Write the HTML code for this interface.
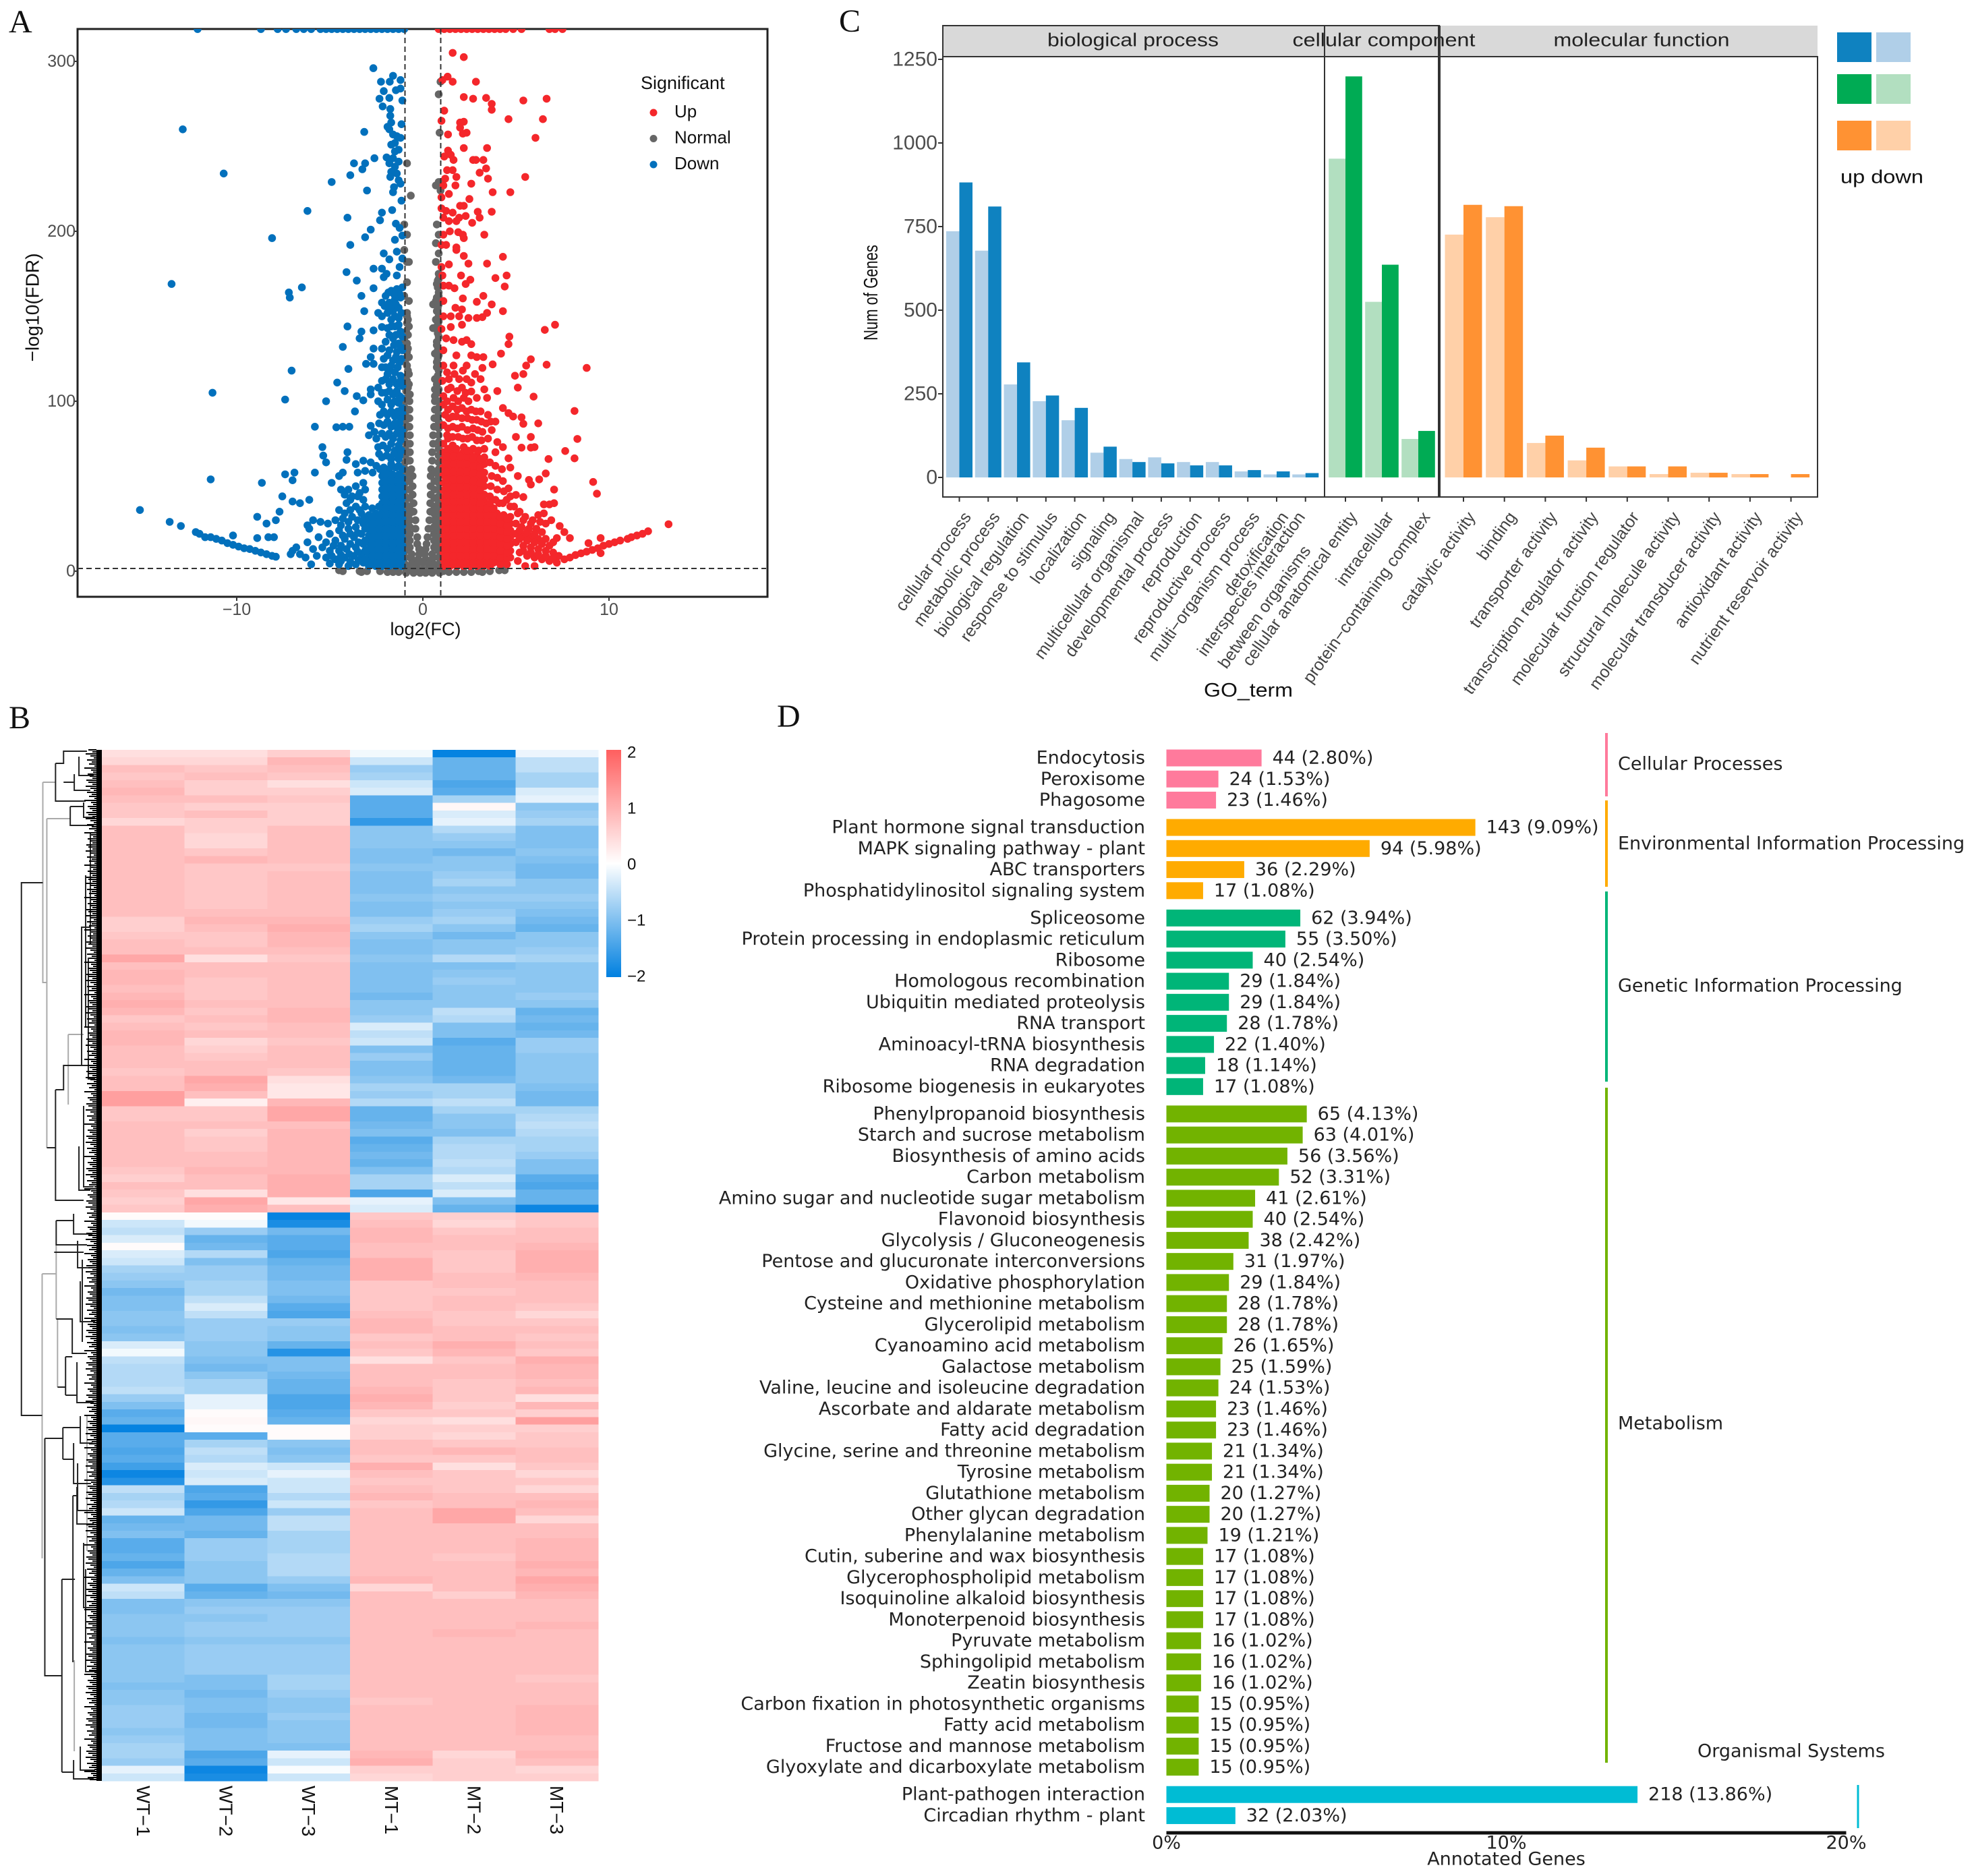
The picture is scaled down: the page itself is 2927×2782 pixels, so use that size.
<!DOCTYPE html>
<html lang="en">
<head>
<meta charset="utf-8">
<title>Transcriptome figure panels</title>
<style>
html,body{margin:0;padding:0;background:#fff}
svg{display:block}
text{font-family:"Liberation Sans",Arial,sans-serif}
.serif{font-family:"Liberation Serif",serif;font-size:48px;fill:#111}
.dj{font-family:"DejaVu Sans",sans-serif;font-size:27px;fill:#222}
</style>
</head>
<body>
<svg id="fig" xmlns="http://www.w3.org/2000/svg" width="2927" height="2782" viewBox="0 0 2927 2782">
  <defs>
    <clipPath id="volcanoClip"><rect x="115" y="43" width="1023" height="842"/></clipPath>
    <linearGradient id="heatGrad" x1="0" y1="0" x2="0" y2="1">
      <stop offset="0" stop-color="#ff5f5f"/><stop offset=".5" stop-color="#ffffff"/><stop offset="1" stop-color="#0080e0"/>
    </linearGradient>
  </defs>
  <rect x="0" y="0" width="2927" height="2782" fill="#fff"/>
  <text class="serif" x="13" y="48">A</text>
  <text class="serif" x="13" y="1080">B</text>
  <text class="serif" x="1244" y="47">C</text>
  <text class="serif" x="1152" y="1078">D</text>

  <g id="panelA"></g>
  <g id="panelB">
    <g transform="scale(.992 1)">
    <g fill="none" stroke="#aaa" stroke-width="2">
      <path d="M64 1160V1457H70M64 1160H83M70 1214V1702M70 1214H105M102 1534V1638M102 1534H125M63 1889V2311M63 1889H84M84 1846V1956M86 1956V2057M111 2462V2597M130 2100V2300M128 2330V2480"/>
    </g>
    <g fill="none" stroke="#222" stroke-width="2">
      <path d="M64 1309H32V2099H63"/>
      <path d="M83 1132V1188H128M83 1132H95V1114H130M95 1160H111M111 1148V1172H135M118 1122V1150H140M105 1196V1224H140M105 1196H125M125 1190V1212H142"/>
      <path d="M70 1702H83M83 1616V1780H125M83 1616H95V1580H122V1375H135M122 1580H132M128 1298V1523H140M135 1235V1400M132 1420V1600H142M125 1640V1760H140M118 1700V1765H135"/>
      <path d="M84 1810V1846H130M84 1810H110M81 1857H125M123 1868V1990M110 1800V1830H138M116 1840V1880H142M84 1956H108V2007H130M86 2057H98M98 2012V2069M98 2012H108M98 2069H115M115 2020V2080H140M120 1900V1960H142"/>
      <path d="M67 2133H94M67 2133V2485H92.5M94 2117V2164M94 2117H120M94 2164H110M120 2100V2140H138M110 2140V2200H136M116 2170V2240H140M92.5 2342V2628M92.5 2342H112M109 2218V2465M109 2218H115M115 2205V2260H140M125 2288V2384H142M128 2327V2479H145M92.5 2628H110M110 2610V2638H140M120 2590V2625H142"/>
    </g>
    </g>
  </g>
  <g id="panelC"></g>
  <g id="panelD">
    <g stroke-width="4">
      <line x1="2382" y1="1087" x2="2382" y2="1181" stroke="#ff7a9c"/>
      <line x1="2382" y1="1187" x2="2382" y2="1315" stroke="#ffab00"/>
      <line x1="2382" y1="1322" x2="2382" y2="1604" stroke="#00b578"/>
      <line x1="2382" y1="1613" x2="2382" y2="2614" stroke="#72b300"/>
      <line x1="2755" y1="2647" x2="2755" y2="2711" stroke="#00bcd4" stroke-width="3"/>
    </g>
  </g>
</svg>
<script>
/* ---------- Panel A data: [log2FC, -log10FDR] ---------- */
const volcanoXTicks = [-10, 0, 10];
const volcanoYTicks = [0, 100, 200, 300];
const legendLabels = ["Up", "Normal", "Down"];
const downPoints = [[-12.9,260],[-10.7,234],[-8.1,196],[-6.2,212],[-13.5,169],[-7.2,164],[-7.15,161],[-6.5,167],[-7.05,118],[-11.3,105],[-7.4,101],[-11.4,54],[-8.65,52],[-7.4,57],[-6.9,58],[-7,53.5],[-5.8,58],[-7.55,44],[-7,41],[-6.6,40],[-6.1,42],[-15.2,36],[-13.6,29],[-13,26.6],[-12.2,23],[-10.2,21],[-8.9,32],[-8.4,28],[-7.9,30],[-7.7,35],[-8.9,19.5],[-8.3,20],[-8,20],
[-12,22],[-11.7,20],[-11.4,20],[-11.1,19],[-10.8,18],[-10.5,16.5],[-10.2,15.5],[-9.9,14.5],[-9.6,13.5],[-9.3,13],[-9,12],[-8.7,11],[-8.4,10],[-8.1,9],[-7.9,8.5],
[-2.66,296],[-2.25,288],[-1.78,288],[-1.6,291.5],[-1.2,289],[-1.2,284],[-2.1,282.5],[-1.45,283],[-2.33,278],[-1.8,278.5],[-1.1,277],[-2.16,273.5],[-1.75,272],[-1.75,268],[-1.7,264],[-1.8,260],[-1.9,261.5],[-1.15,263],[-3.15,258.5],[-1.6,257],[-1.4,256],[-1.2,255],[-1.5,252],[-1.7,251],[-1.3,248],[-1.5,247],[-1.6,243],[-1.3,241],[-1.5,238],[-1.95,243.5],[-2.6,243],[-3.7,240],[-3.1,240],[-3.25,236.5],[-3.9,233],[-4.9,229],[-3,224],[-1.8,240],[-1.7,235],[-1.75,232],[-1.4,234],[-1.3,230],[-1.55,226],[-1.6,223],[-1.2,228],[-1.15,218],[-1.65,212.5],[-2.2,211],[-2.3,206.5],[-4.05,208],[-1.45,204.5],[-2.8,201],[-3.1,196.5],[-3.9,192],[-1.25,202],[-1.5,195],[-1.1,197.5],[-1.4,188],[-2.1,187],[-1.8,183.5],[-2.65,178],[-2.2,178],[-1.95,175],[-1.25,179],[-1.1,184],[-4.1,176],[-3.55,171],[-2.1,173],[-1.4,174],[-2.65,166.5],[-3.3,162],[-2,162],[-1.7,165],[-1.4,166],[-1.1,167],[-2.2,158],[-1.8,158],[-1.5,160],[-1.2,161],[-1.9,152],[-1.6,153],[-1.3,155],[-2.4,152],[-3.15,153],[-2.2,150],[-1.7,148],[-1.3,149],[-1.9,143],[-1.5,144],[-1.2,141],[-2.2,143.7],[-4.05,144],[-2.65,141.7],[-3.3,141],[-3.4,137],[-4.3,132],[-2,135],[-1.6,137],[-1.3,134],[-1.8,130],[-1.4,129],[-1.1,130],[-2.1,125],[-1.6,124],[-1.25,123],[-2.2,120],[-1.8,119],[-2.65,131],[-2.8,126],[-3.05,122],[-2.65,122],[-4,119],[-1.9,116],[-1.5,117],[-1.2,115],[-2.2,112],[-1.8,110],[-1.4,110],[-1.1,109],[-2,105],[-1.6,104],[-1.25,103],[-2.4,108],[-4.6,111],[-4.2,106],[-3.55,103],[-2.8,107],[-2.8,104],[-3.2,100.5],[-5.2,100],[-3.65,94],[-5.8,85],[-4.65,84.7],[-4.3,85],[-3.95,85],[-2.8,85.5],[-2.9,80],[-2.2,98],[-1.7,98],[-1.3,99],[-1.1,96],[-2.3,92],[-1.9,92],[-1.5,91],[-1.2,90],[-2.1,86],[-1.7,85],[-1.35,84],[-1.1,83],[-2.5,78],[-2,79],[-1.6,78],[-1.2,77],[-2.4,73],[-1.9,72],[-1.5,71],[-1.15,71],[-2.2,67],[-1.7,66],[-1.3,66],[-5.4,73],[-5.35,68],[-5.2,64],[-4.05,70],[-4.1,65.5],[-3.6,63],[-3.2,65],[-2.8,64],[-2.5,62],[-3.5,58],[-3.1,59],[-2.7,58],[-2.3,60],
[-1.1,60],[-1.46,61],[-1.82,60],[-2.18,56],[-1.1,55],[-1.46,56],[-1.82,55],[-2.18,52],[-1.1,51],[-1.46,51],[-1.82,50],[-2.18,48],[-1.1,47],[-1.46,46],[-1.82,46],[-2.18,44],[-1.1,43],[-1.46,42],[-1.82,42],[-2.18,40],[-1.1,39],[-1.46,38],[-1.82,38],[-2.18,37],
[-1.1,35],[-1.46,35],[-1.82,35],[-2.18,35],[-2.54,34],[-2.9,33],[-1.1,31],[-1.46,31],[-1.82,31],[-2.18,31],[-2.54,30],[-2.9,29],[-1.1,27],[-1.46,27],[-1.82,27],[-2.18,27],[-2.54,26],[-2.9,25],[-1.1,23],[-1.46,23],[-1.82,23],[-2.18,23],[-2.54,22],[-2.9,21],[-1.1,19],[-1.46,19],[-1.82,19],[-2.18,19],[-2.54,18],[-2.9,17],[-1.1,15],[-1.46,15],[-1.82,15],[-2.18,15],[-2.54,14],[-2.9,13],[-1.1,11],[-1.46,11],[-1.82,11],[-2.18,11],[-2.54,10],[-2.9,9],[-1.1,7],[-1.46,7],[-1.82,7],[-2.18,7],[-2.54,7],[-2.9,6],[-1.1,3],[-1.46,3],[-1.82,3],[-2.18,3],[-2.54,3],[-2.9,3],
[-3.2,52],[-3.6,50],[-4,48],[-4.5,56],[-4.3,58],[-4.9,52],[-3.4,46],[-3.8,44],[-3.2,42],[-3.6,38],[-4.1,40],[-4.5,36],[-3.3,34],[-3.8,32],[-4.3,31],[-4.7,30],[-5.1,28],[-3.2,28],[-3.6,26],[-4,25],[-4.5,24],[-5,22],[-3.3,22],[-3.7,20],[-4.2,19],[-4.7,18],[-5.2,17],[-5.6,20],[-3.2,16],[-3.6,14],[-4.1,13],[-4.5,12],[-5,12],[-5.4,14],[-5.9,13],[-6.2,17],[-3.3,10],[-3.7,9],[-4.2,8],[-4.7,7],[-5.2,8],[-5.7,9],[-6.3,8],[-6.8,14],[-7,12],[-3.2,5],[-3.6,4],[-4,3],[-4.5,4],[-6,4],[-5.5,29],[-5.9,30],[-6.2,27],[-6.1,25],[-7.1,10],[-6.6,10],
[-1.3,62],[-1.7,63],[-2.1,61],[-1.25,68],[-1.55,69],[-1.95,68],[-2.35,69],[-1.3,74],[-1.7,75],[-2.15,74],[-1.15,80],[-1.4,81],[-1.8,81],[-2.2,81],[-2.6,82],[-1.25,87],[-1.5,87],[-1.9,88],[-2.35,87],[-1.1,93],[-1.35,94],[-1.7,94],[-2.1,94],[-1.5,100],[-1.9,101],[-2.4,100],[-1.15,102],[-1.4,106],[-1.8,106],[-2.2,105],[-1.2,112],[-1.6,113],[-2,113],[-1.35,120],[-1.7,121],[-2,120],[-1.15,125],[-1.45,126],[-1.9,127],[-1.2,132],[-1.55,133],[-2.2,131],[-1.1,138],[-1.45,139],[-1.8,139],[-1.3,145],[-1.7,144],[-1.5,150],[-1.15,152],[-1.75,155],[-1.45,157],[-2.05,156],[-1.25,163],[-1.55,163],[-1.85,164],
[-1.28,5],[-1.64,5],[-2,5],[-2.36,5],[-2.72,5],[-1.28,9],[-1.64,9],[-2,9],[-2.36,9],[-2.72,9],[-1.28,13],[-1.64,13],[-2,13],[-2.36,13],[-2.72,13],[-1.28,17],[-1.64,17],[-2,17],[-2.36,17],[-2.72,16],[-1.28,21],[-1.64,21],[-2,21],[-2.36,21],[-2.72,20],[-1.28,25],[-1.64,25],[-2,25],[-2.36,25],[-2.72,24],[-1.28,29],[-1.64,29],[-2,29],[-2.36,29],[-2.72,28],[-1.28,33],[-1.64,33],[-2,33],[-2.36,33],[-2.72,32],[-1.28,37],[-1.64,37],[-2,37],[-2.36,38],[-2.72,37],[-1.28,41],[-1.64,41],[-2,41],[-1.28,45],[-1.64,45],[-2,45],[-1.28,49],[-1.64,49],[-2,49],[-1.28,53],[-1.64,53],[-2,53],[-1.28,57],[-1.64,57],[-2,57],
[-3.1,48],[-3.5,44],[-3.9,42],[-4.2,45],[-4.4,48],[-3.1,38],[-3.4,36],[-3.9,36],[-4.2,34],[-3.15,31],[-3.5,30],[-4,29],[-4.4,27],[-3.1,25],[-3.5,22.5],[-3.9,22],[-4.3,21],[-3.1,18],[-3.45,17],[-3.9,16],[-4.4,15],[-4.8,15],[-3.1,12],[-3.5,11.5],[-3.95,10],[-4.4,9.5],[-4.9,9],[-3.1,7],[-3.45,6.5],[-3.9,5.5],[-4.4,6],[-5,4.5],
[-12.1,319],[-8.7,319],[-7.8,319],[-7.35,319],[-6.8,319],[-6.4,319],[-6,319],[-5.5,319],[-5.2,319],[-4.9,319],[-4.6,319],[-4.3,319],[-4,319],[-3.7,319],[-3.4,319],[-3.1,319],[-2.8,319],[-2.5,319],[-2.2,319],[-1.9,319],[-1.6,319],[-1.3,319],[-1,319]];
const normalPoints = [[-.85,240],[-.65,221],[-1,204],[-.85,198],[-1,189],[-.85,182],[-.75,182],[-.85,170],[-1,162],[-.75,159],[-.85,152],[-.75,144],[-1,136],[-.85,129],[-.75,126],[-.95,123],[-.8,118],[-.95,114],[-.75,110],[-.9,106],[-.7,104],
[-.85,150],[-.8,148],[-.85,146],[-.9,141],[-.8,139],[-.85,134],[-.8,131],[-.85,121],[-.75,116],[-.85,112],[-.8,108],[-.85,102],[-.85,126],
[-.95,100],[-.72,100],[-.95,96],[-.72,95],[-.95,92],[-.72,90],[-.95,88],[-.72,85],[-.95,84],[-.7,80],[-.95,80],[-.95,76],[-.7,75],[-.95,72],[-.7,70],[-.95,68],[-.7,65],[-.95,64],[-.62,60],[-.95,60],[-.95,56],[-.55,56],[-.95,52],[-.55,50],[-.95,48],[-.55,45],[-.95,44],[-.5,40],[-.95,40],[-.95,36],[-.5,35],[-.95,32],[-.7,30],[-.4,30],[-.95,28],[-.7,26],[-.4,25],[-.95,24],[-.7,22],[-.3,20],[-.95,20],[-.7,18],[-.3,16],[-.95,16],[-.7,14],[-.2,13],[-.95,12],[-.6,10],[-.2,10],[-.95,8],[-.6,7],[-.25,7],
[-.72,58],[-.72,53],[-.72,48],[-.72,43],[-.72,38],[-.7,34],
[.95,288],[.85,280.6],[.9,258],[.85,229],[.7,227],[.95,224],[.75,204],[.85,198],[.7,193],[.85,187],[.7,182],[.85,175],[.8,171],[.8,167],[.85,162],[.55,157],[.7,159],[.8,155],[.85,150],[.8,145],[.55,143],[.8,140],[.75,135],[.8,130],[.65,128],[.8,125],[.75,120],[.8,115],[.75,110],[.8,105],
[.85,172],[.75,169],[.85,164],[.75,161],[.85,157],[.75,153],[.7,148],[.85,147],[.75,143],[.85,138],[.75,133],[.85,127],[.75,123],[.85,118],[.65,113],[.85,112],[.65,107],[.85,107],[.65,103],
[.85,100],[.65,100],[.85,96],[.65,95],[.85,92],[.62,90],[.85,88],[.6,85],[.85,84],[.55,80],[.85,80],[.85,76],[.55,75],[.85,72],[.5,70],[.85,68],[.5,65],[.85,64],[.45,60],[.85,60],[.85,56],[.42,56],[.85,52],[.42,50],[.85,48],[.42,45],[.85,44],[.4,40],[.85,40],[.85,36],[.4,35],[.85,32],[.6,30],[.35,30],[.85,28],[.6,26],[.3,25],[.85,24],[.6,22],[.25,20],[.85,20],[.6,18],[.2,16],[.85,16],[.6,14],[.15,13],[.85,12],[.5,10],[.1,10],[.85,8],[.5,7],[.15,7],
[.62,58],[.62,53],[.62,48],[.62,43],[.62,38],[.6,34],
[-1.8,5],[-1.4,5],[-1.1,5],[-.95,4],[-.6,4],[-.3,4],[0,5],[.3,4],[.6,4],[.85,4],[1.1,0],[-.9,1],[-.6,1],[-.3,1],[0,1],[.3,1],[.6,1],[.9,1],[-.15,-1],[.15,-1],[-.5,-1],[.5,-1],[-.9,-1],[.9,-1],[-1.3,-.5],[-1.6,-.5],[-1.9,-.5],[-2.3,0],[-3,0],[-3.3,-.5],[-3.4,0],[-4.3,0],[-4.5,.5],[1.4,-.5],[1.8,-.5],[2.2,-.5],[2.6,-.5],[3,0],[3.2,-.5],[3.6,0],[4.1,.5],[4.4,.5]];
const upPoints = [[1.6,305],[2.2,302.5],[1.33,291],[1.05,289],[1.6,288],[2.85,288],[2.2,279],[2.7,278],[3.4,278.5],[3.7,275],[3.7,271.5],[5.4,277],[6.65,278],[1.15,271],[4.6,266],[6.45,266],[1,265],[2,264],[2.2,264.5],[2,261],[2.35,258],[2.15,257.5],[1.35,257],[6.05,255],[3.45,249],[2.2,249],[1.35,247.5],[1.5,245],[1.15,244],[1.65,242],[2.7,242],[2.85,242],[3.25,242],[3.4,237],[3.05,234.5],[1.3,236],[1.6,236],[1.2,231],[5.5,232],[3.5,231],[1.8,232],[1.1,227],[1.75,227],[2.6,228],[3.75,223],[4.7,223],[1.4,222],[1,220],[2.5,219],[2,215],[2.2,215],[2.95,211.5],[3.7,211.5],[1,213.5],[1.25,212],[1.6,211],[1.95,208],[2.3,209],[3.05,208],[2.65,205],[1.1,208],[1.4,206],[1.8,206],[1.9,199.5],[1.45,200],[3.3,198],[2.15,198],[2.2,196],[1.1,198],[1,192],[1.25,192],[1.8,190.5],[1.8,189],[2.2,185.5],[4.3,185],[2.45,181],[3.45,181],[1.4,180.5],[1,179],[1.05,174],[2.05,174],[4.5,174],[3.9,172.5],[2.55,171.5],[2.3,169],[4.4,167.5],[1.4,168],[1.7,166.5],[1.1,168],[3.25,162],[2.15,160.5],[2.9,158.5],[3.7,157],[1.75,155],[2.1,154],[1.1,159],[4.3,153],[3.45,152],[3.2,149.5],[2.9,149],[2.45,149],[1.1,150],[1.5,150],[1.95,150],[7.1,145],[6.55,142],[2.1,145],[1.5,143.7],[1,142.5],[4.65,138],[4.6,133.6],[2.35,136],[2.6,133.6],[1.25,137],[1.65,136],[2.1,135],[4.2,128],[1.1,130],[1.8,127],[2.6,127],[2.9,126],[3.25,126],[5.8,124.7],[5.55,121],[6.65,121.5],[8.8,119.6],[3.75,121.7],[1.65,121],[2.35,121],[3.2,119.6],[5.4,116],[4.95,115],[1.1,121],
[1.4,113],[1.95,113],[2.35,113],[2.6,111],[1.05,112],[1.5,108],[2.1,108],[2.6,105.7],[3.3,107],[4,106],[5.1,108],[5.95,102.7],[1.1,103],[1.65,102],[2.2,102],[2.9,102],[3.45,102],[8.15,94.3],[4.3,96],[4.6,93],[4.85,91],[5.3,90.5],[6.2,87],[5.4,86.7],[8.3,77.8],[7.65,70.7],[8.15,66.4],[6.75,66],[9.15,52.5],[9.35,45.6],[7.05,48],[7.05,40],[6.5,39.3],[6.8,39.3],[6.6,57.5],[6.25,54],[5.8,79],[5,79],[5.8,72.7],[6,73],[5.3,72.7],[4.6,66.4],[4.7,61],[5.1,56],[5.7,53.7],[5.8,51],[4.6,48.7],[5,44.9],[5.4,43.6],[7.35,26.6],[7.6,23],[7.2,19.5],[7.9,19.5],[8.9,16.5],[9.55,19.5],[9.55,10.6],
[7.6,7],[7.9,8],[8.2,9.5],[8.5,10.5],[8.8,11.5],[9.1,12.5],[9.4,13.5],[9.7,15],[10,16],[10.3,17],[10.6,18],[11,19],[11.2,20],[11.5,21],[11.8,22],[12.1,23.5],[13.2,27.6],
[1.1,98],[1.6,97],[2.1,96],[2.6,95],[3.1,94],[3.5,92],[1.2,92],[1.8,91],[2.4,90],[2.9,89],[3.4,87],[3.9,88],[1.1,86],[1.6,85],[2.1,85],[2.7,84],[3.2,82],[3.7,83],[1.3,80],[1.9,79],[2.4,78],[2.9,77],[3.5,78],[4,76],[1.1,75],[1.6,74],[2.2,73],[2.7,72],[3.3,72],[3.9,70],[4.3,73],
[1.1,70],[1.46,70],[1.82,69],[2.18,70],[2.54,69],[2.9,68],[3.3,67],[1.1,65.5],[1.46,65],[1.82,65],[2.18,65],[2.54,64],[2.9,64],[3.3,63],[1.1,61],[1.46,60.5],[1.82,61],[2.18,60],[2.54,60],[2.9,59],[3.3,58],[1.1,56.5],[1.46,56],[1.82,56],[2.18,56],[2.54,55],[2.9,55],[3.3,54],[1.1,52],[1.46,52],[1.82,51],[2.18,52],[2.54,51],[2.9,50],[3.3,50],[1.1,47.5],[1.46,47],[1.82,47],[2.18,47],[2.54,47],[2.9,46],[3.3,45],[1.1,43],[1.46,43],[1.82,43],[2.18,43],[2.54,42],[2.9,42],[3.3,41],[1.1,39],[1.46,39],[1.82,38],[2.18,39],[2.54,38],[2.9,38],[3.3,38],
[1.1,35],[1.46,35],[1.82,35],[2.18,35],[2.54,35],[2.9,35],[3.26,34],[3.62,35],[3.98,34],[4.34,33],[4.7,32],[1.1,31],[1.46,31],[1.82,31],[2.18,31],[2.54,31],[2.9,31],[3.26,30],[3.62,31],[3.98,30],[4.34,29],[4.7,28],[1.1,27],[1.46,27],[1.82,27],[2.18,27],[2.54,27],[2.9,27],[3.26,26],[3.62,27],[3.98,26],[4.34,25],[4.7,24],[1.1,23],[1.46,23],[1.82,23],[2.18,23],[2.54,23],[2.9,23],[3.26,22],[3.62,23],[3.98,22],[4.34,21],[4.7,20],[1.1,19],[1.46,19],[1.82,19],[2.18,19],[2.54,19],[2.9,19],[3.26,18],[3.62,19],[3.98,18],[4.34,17],[4.7,16],[1.1,15],[1.46,15],[1.82,15],[2.18,15],[2.54,15],[2.9,15],[3.26,14],[3.62,15],[3.98,14],[4.34,13],[4.7,12],[1.1,11],[1.46,11],[1.82,11],[2.18,11],[2.54,11],[2.9,11],[3.26,10],[3.62,11],[3.98,10],[4.34,9],[4.7,8],[1.1,7],[1.46,7],[1.82,7],[2.18,7],[2.54,7],[2.9,7],[3.26,6],[3.62,7],[3.98,6],[4.34,5],[1.1,3],[1.46,3],[1.82,3],[2.18,3],[2.54,3],[2.9,3],[3.26,3],[3.62,3],
[4.1,40],[4.5,42],[4.9,38],[5.2,35],[5.5,32],[5.9,30],[6.2,33],[6.5,34],[5,28],[5.3,26],[5.7,25],[6.1,25],[6.6,28],[6.9,30],[5,22],[5.4,21],[5.8,20],[6.2,19],[6.6,19],[7,17],[5,17],[5.4,15],[5.8,14],[6.2,13],[6.6,12],[7,11],[7.3,9],[5.2,11],[5.6,9],[6,8],[6.4,7],[6.8,6],[7.2,5],[5.1,6],[5.5,3],[6,3],
[1.28,5],[1.64,5],[2,5],[2.36,5],[2.72,5],[3.08,5],[3.44,5],[3.8,5],[4.16,4],[4.52,4],[1.28,9],[1.64,9],[2,9],[2.36,9],[2.72,9],[3.08,9],[3.44,9],[3.8,9],[4.16,8],[4.52,8],[1.28,13],[1.64,13],[2,13],[2.36,13],[2.72,13],[3.08,13],[3.44,13],[3.8,13],[4.16,12],[4.52,11],[1.28,17],[1.64,17],[2,17],[2.36,17],[2.72,17],[3.08,17],[3.44,17],[3.8,17],[4.16,16],[4.52,15],[1.28,21],[1.64,21],[2,21],[2.36,21],[2.72,21],[3.08,21],[3.44,21],[3.8,21],[4.16,20],[4.52,19],[1.28,25],[1.64,25],[2,25],[2.36,25],[2.72,25],[3.08,25],[3.44,25],[3.8,25],[4.16,24],[4.52,23],[1.28,29],[1.64,29],[2,29],[2.36,29],[2.72,29],[3.08,29],[3.44,29],[3.8,29],[4.16,28],[4.52,27],[1.28,33],[1.64,33],[2,33],[2.36,33],[2.72,33],[3.08,33],[3.44,33],[3.8,33],[4.16,32],[4.52,31],[1.28,37],[1.64,37],[2,37],[2.36,37],[2.72,37],[3.08,37],[3.44,37],[3.8,37],
[1.28,41],[1.64,41],[2,41],[2.36,41],[2.72,41],[3.08,40],[1.28,45],[1.64,45],[2,45],[2.36,45],[2.72,45],[3.08,44],[1.28,49.5],[1.64,49.5],[2,49.5],[2.36,49.5],[2.72,49],[3.08,48],[1.28,54],[1.64,54],[2,54],[2.36,54],[2.72,53],[3.08,52],[1.28,58.5],[1.64,58.5],[2,58.5],[2.36,58.5],[2.72,58],[3.08,57],[1.28,63],[1.64,63],[2,63],[2.36,63],[2.72,62],[3.08,61],[1.28,67.5],[1.64,67.5],[2,67.5],[2.36,67.5],[2.72,67],[3.08,66],
[1.35,72],[1.8,72],[2.4,71],[3,71],[1.35,78],[1.6,79],[2.15,78],[2.65,79],[3.15,77],[1.35,84],[1.85,84],[2.4,83],[2.95,83],[1.4,90],[1.6,91],[2.1,90],[2.65,89],[3.15,88],[3.65,88],[1.35,95],[1.85,95],[2.35,94],[2.85,94],[1.3,100],[1.9,100],[2.45,100],[1.35,107],[1.85,106],[2.3,105],[1.3,117],[1.7,116],[2.15,118],[2.8,116],[3.1,113],
[3.6,64],[3.9,62],[4.25,60],[3.7,56],[4,55],[4.3,53],[3.65,50],[4,48],[4.35,47],[3.6,44],[3.9,42],[4.3,40],[3.6,40],[4.7,38],[4.7,44],
[5.1,34],[5.4,30],[5.8,28],[6.3,29],[5.2,24],[5.6,23],[6,22],[6.4,23],[5.2,19],[5.6,18],[6,17],[6.4,16],[6.8,15],[5.4,12],[5.8,11],[6.2,10],[6.6,9],[7,8],
[.85,319],[1.15,319],[1.45,319],[1.75,319],[2.05,319],[2.35,319],[2.65,319],[2.95,319],[3.25,319],[3.55,319],[3.85,319],[4.15,319],[4.45,319],[4.85,319],[5.3,319],[6.8,319],[7.1,319],[7.5,319]];

/* ---------- Panel B data ---------- */
const heatSamples = ["WT−1","WT−2","WT−3","MT−1","MT−2","MT−3"];
const heatScaleLabels = [2, 1, 0, -1, -2];
const heatRows = [
[.4,.4,.6,-.1,-1.95,-.15],[.5,.5,.9,-.4,-1.2,-.5],[.8,.7,.8,-.8,-1.2,-.5],[.7,.8,.7,-.7,-1.2,-.7],[.8,.6,.4,-.4,-1.4,-.7],[.9,.6,.6,-.3,-1.3,-.3],[.8,.8,.7,-1.3,-.7,-.2],[.7,.6,.6,-1.3,.1,-.9],[.7,.8,.6,-1.3,-.3,-.8],[.5,.6,.6,-1.6,-.2,-.7],
[.8,.6,.8,-.9,-.6,-1],[.8,.5,.8,-.9,-.8,-1],[.8,.5,.8,-.9,-.9,-1],[.8,.7,.8,-1,-1.1,-.9],[.8,.9,.8,-1,-.9,-1],[.8,.7,.7,-.9,-.9,-1.1],[.8,.7,.8,-1,-.8,-1.1],[.8,.7,.8,-1,-.7,-.9],[.8,.7,.8,-1,-.9,-.9],[.8,.7,.8,-.9,-.8,-.8],
[.8,.7,.8,-1,-.9,-.9],[.8,.8,.8,-1,-.8,-1],[.6,.9,.9,-.8,-.7,-1.1],[.6,.8,1,-.7,-.9,-1.2],[.7,.7,.9,-.9,-1.1,-.9],[.8,.7,.9,-1,-.9,-.9],[.8,.8,.8,-1,-.9,-.8],[1.1,.4,.7,-.9,-.6,-.7],[.8,.8,.8,-1,-1,-.9],[.9,.8,.8,-1,-.9,-.9],
[.9,.7,.8,-1,-.8,-.9],[.8,.7,.8,-1,-.9,-.9],[.9,.7,.8,-1.1,-.9,-.8],[1,.8,.8,-.9,-.9,-.9],[.9,.7,.9,-.9,-.5,-1.2],[.7,.8,.9,-.8,-.6,-1.1],[.8,.7,.8,-.3,-1,-1.2],[.9,.8,.8,-.5,-1,-1.1],[.9,.5,.7,-.4,-1.3,-.8],[.8,.6,.8,-1,-1.2,-.8],
[.8,.7,.8,-.8,-1.2,-.9],[.8,.8,.8,-1,-1.2,-.9],[.7,.8,.7,-1,-1.2,-.9],[.8,1.1,.4,-.9,-1.1,-.9],[.8,1,.3,-.7,-.7,-1],[1.2,.8,.3,-.8,-.7,-1.1],[1.2,.2,.9,-.6,-.5,-1.1],[.7,.7,1.1,-1.2,-.7,-.7],[.7,.7,1.1,-1.2,-.9,-.6],[.8,.8,.8,-1.1,-.9,-.5],
[.8,.6,.9,-1,-1,-.6],[.8,.7,.9,-1.3,-.7,-.7],[.8,.7,.9,-1.2,-.6,-.7],[.8,.8,.9,-1.1,-.6,-.8],[.8,.8,.9,-1.2,-.5,-1],[.7,.9,.9,-1,-.6,-1],[.6,.8,1,-.7,-.3,-1.3],[.8,.8,1,-.7,-.5,-1.4],[.7,.4,1,-1.4,-.3,-1.2],[.6,1.1,.3,-.2,-1,-1.2],[.7,1,.8,-.3,-1.2,-1.9],
[.05,.05,-1.95,.7,.6,.7],[-.4,-.1,-1.8,.8,.5,.7],[-.5,-.8,-1.1,.9,.7,.8],[-.3,-1.2,-1.3,.9,.8,.8],[.05,-1.1,-1.3,.8,.8,.9],[-.3,-.6,-1.4,.8,.7,1],[-.4,-1,-1.2,1,.7,1],[-.7,-.8,-1.1,1,.7,1],[-.8,-.8,-1.1,1,.8,.9],
[-.9,-.7,-1,.7,.8,.8],[-1.1,-.7,-1,.7,.7,.8],[-1,-.5,-1.1,.7,.8,.8],[-1,-.3,-1.3,.7,.8,.7],[-.9,-.5,-1.4,.8,.7,.5],[-.9,-.8,-.8,.9,.7,.7],[-1,-.8,-.9,.9,.8,.8],[-.9,-.8,-.9,.7,.8,.7],[-.3,-.9,-1.2,.8,1,.8],[-.1,-.9,-1.7,.7,.9,.7],
[-.5,-1,-1,.4,.7,1],[-.6,-1.1,-1,.8,.8,.9],[-.6,-.9,-1.1,.8,.8,.9],[-.6,-.7,-1.2,.8,.7,.8],[-.5,-.7,-1.2,.9,.7,.9],[-.8,-.2,-1.4,1,.7,.4],[-1,-.2,-1.4,.9,.6,.9],[-1.3,.05,-1.3,.7,.7,.6],[-1.2,.1,-1.2,.5,.4,1.2],[-1.95,.05,.05,.6,.6,.6],
[-1.3,-1.3,.05,.6,.5,.7],[-1.3,-.7,-.9,.8,.7,.7],[-1.4,-.5,-1,.8,.9,.8],[-1.3,-.6,-.9,.7,.7,.8],[-1.5,-.3,-.4,1,.4,.7],[-1.9,-.4,-.2,.8,.7,.5],[-1.7,-.3,-.4,.7,.7,.7],[-.5,-1.4,-.4,.8,.7,.5],[-.7,-1.3,-.6,.9,.8,.8],[-.6,-1.6,-.4,.7,.8,.9],
[-.4,-1.4,-.8,.8,1.1,.8],[-1.2,-1.1,-.5,.8,1.1,.5],[-1.1,-1.1,-.5,.8,.8,.8],[-1,-1.2,-.7,.8,.8,.8],[-1.3,-.8,-.7,.8,.8,.9],[-1.3,-.8,-.7,.8,.8,.9],[-1.2,-.8,-.6,.8,.7,.9],[-1.4,-.9,-.6,.8,.8,1],[-1.2,-.9,-.6,.8,.8,.9],[-1,-.9,-.8,.9,.8,1.1],
[-.4,-1.3,-1,.5,.8,1],[-.5,-1.2,-1.1,.8,.6,.9],[-1,-.9,-.9,.8,.8,.8],[-1,-.8,-.8,.8,.8,.8],[-.9,-.9,-.8,.8,.8,.8],[-.9,-.8,-.8,.8,.8,.9],[-.9,-.8,-.8,.8,.9,.8],[-1,-.9,-.9,.8,.8,.8],[-.9,-.8,-.8,.8,.8,.8],[-.9,-.8,-.8,.8,.8,.8],
[-.9,-.8,-.8,.8,.8,.8],[-.9,-.8,-.8,.8,.8,.8],[-.9,-1,-.7,.8,.8,.7],[-1,-1,-.7,.8,.8,.8],[-.9,-1.1,-.8,.8,.8,.8],[-.9,-1,-.9,.7,.8,.8],[-.8,-1,-.9,.8,.8,.9],[-.8,-1.1,-.8,.8,.8,.9],[-.8,-1.1,-.9,.8,.8,.9],[-.9,-1,-.9,.8,.8,.9],
[-.8,-1,-.9,.8,.8,.8],[-.7,-1,-1,.8,.8,.8],[-.7,-1.4,-.2,.9,.5,.9],[-.8,-1.3,-.4,1,.6,.8],[-.2,-1.9,-.05,.6,.6,.5],[-.4,-1.8,-.4,.5,.6,.6]];
const leafLengths = [12,6,16,9,4,14,7,11,3,18,8,5,13,10,6,15];

/* ---------- Panel C data ---------- */
const goYTicks = [0, 250, 500, 750, 1000, 1250];
const bpTerms = ["cellular process","metabolic process","biological regulation","response to stimulus","localization","signaling","multicellular organismal","developmental process","reproduction","reproductive process","multi−organism process","detoxification","interspecies interaction"];
const bpDown = [736,678,278,228,171,74,55,60,46,46,18,9,9];
const bpUp = [882,810,344,245,208,92,46,42,36,36,22,18,13];
const ccTerms = ["cellular anatomical entity","intracellular","protein−containing complex"];
const ccDown = [953,525,115];
const ccUp = [1199,636,139];
const mfTerms = ["catalytic activity","binding","transporter activity","transcription regulator activity","molecular function regulator","structural molecule activity","molecular transducer activity","antioxidant activity","nutrient reservoir activity"];
const mfDown = [726,778,103,51,33,10,14,10,0];
const mfUp = [815,811,125,89,33,33,14,10,10];

/* ---------- Panel D data ---------- */
const pathwayNames = ["Endocytosis","Peroxisome","Phagosome","Plant hormone signal transduction","MAPK signaling pathway - plant","ABC transporters","Phosphatidylinositol signaling system","Spliceosome","Protein processing in endoplasmic reticulum","Ribosome","Homologous recombination","Ubiquitin mediated proteolysis","RNA transport","Aminoacyl-tRNA biosynthesis","RNA degradation","Ribosome biogenesis in eukaryotes","Phenylpropanoid biosynthesis","Starch and sucrose metabolism","Biosynthesis of amino acids","Carbon metabolism","Amino sugar and nucleotide sugar metabolism","Flavonoid biosynthesis","Glycolysis / Gluconeogenesis","Pentose and glucuronate interconversions","Oxidative phosphorylation","Cysteine and methionine metabolism","Glycerolipid metabolism","Cyanoamino acid metabolism","Galactose metabolism","Valine, leucine and isoleucine degradation","Ascorbate and aldarate metabolism","Fatty acid degradation","Glycine, serine and threonine metabolism","Tyrosine metabolism","Glutathione metabolism","Other glycan degradation","Phenylalanine metabolism","Cutin, suberine and wax biosynthesis","Glycerophospholipid metabolism","Isoquinoline alkaloid biosynthesis","Monoterpenoid biosynthesis","Pyruvate metabolism","Sphingolipid metabolism","Zeatin biosynthesis","Carbon fixation in photosynthetic organisms","Fatty acid metabolism","Fructose and mannose metabolism","Glyoxylate and dicarboxylate metabolism","Plant-pathogen interaction","Circadian rhythm - plant"];
const pathwayCounts = [44,24,23,143,94,36,17,62,55,40,29,29,28,22,18,17,65,63,56,52,41,40,38,31,29,28,28,26,25,24,23,23,21,21,20,20,19,17,17,17,17,16,16,16,15,15,15,15,218,32];
const pathwayPercents = [2.80,1.53,1.46,9.09,5.98,2.29,1.08,3.94,3.50,2.54,1.84,1.84,1.78,1.40,1.14,1.08,4.13,4.01,3.56,3.31,2.61,2.54,2.42,1.97,1.84,1.78,1.78,1.65,1.59,1.53,1.46,1.46,1.34,1.34,1.27,1.27,1.21,1.08,1.08,1.08,1.08,1.02,1.02,1.02,0.95,0.95,0.95,0.95,13.86,2.03];
const pathwayGroupIndex = [0,0,0,1,1,1,1,2,2,2,2,2,2,2,2,2,3,3,3,3,3,3,3,3,3,3,3,3,3,3,3,3,3,3,3,3,3,3,3,3,3,3,3,3,3,3,3,3,4,4];
const groupNames = ["Cellular Processes","Environmental Information Processing","Genetic Information Processing","Metabolism","Organismal Systems"];
const percentTicks = [0,10,20];

const NS = "http://www.w3.org/2000/svg";
function mk(tag, parent, attrs, content){
  const el = document.createElementNS(NS, tag);
  for (const k in attrs) el.setAttribute(k, attrs[k]);
  if (content !== undefined) el.textContent = content;
  parent.appendChild(el);
  return el;
}
let el;

/* ========== PANEL A ========== */
const A = document.getElementById("panelA");
const vx = v => 627 + v * 27.6;
const vy = v => 847 - v * 2.52;
el = mk("rect", A, {x:115,y:43,width:1023,height:842,fill:"#fff",stroke:"#222","stroke-width":3});


const pointsG = mk("g", A, {"clip-path":"url(#volcanoClip)"});


function drawSeries(points, color, name){
  const g = mk("g", pointsG, {fill:color});
  
  
  for (const p of points){
    const c = mk("circle", g, {cx:vx(p[0]).toFixed(1), cy:vy(p[1]).toFixed(1), r:5.8});
    
    
  }
}
drawSeries(normalPoints, "#666666", "series-normal");
drawSeries(downPoints, "#0270bc", "series-down");
drawSeries(upPoints, "#f4272b", "series-up");
for (const v of [-1, 1]){
  el = mk("line", A, {x1:vx(v*0.96),x2:vx(v*0.96),y1:43,y2:885,stroke:"#333","stroke-width":2,"stroke-dasharray":"8 5"});
  
  
}
el = mk("line", A, {x1:115,x2:1136,y1:843,y2:843,stroke:"#333","stroke-width":2,"stroke-dasharray":"8 5"});


for (const t of volcanoYTicks){
  el = mk("line", A, {x1:109,x2:115,y1:vy(t),y2:vy(t),stroke:"#333","stroke-width":2});
  
  
  el = mk("text", A, {x:112,y:vy(t),"text-anchor":"end","dominant-baseline":"central","font-size":25,fill:"#4d4d4d"}, String(t));
  
  
}
for (const t of volcanoXTicks){
  el = mk("line", A, {x1:vx(t),x2:vx(t),y1:885,y2:891,stroke:"#333","stroke-width":2});
  
  
  el = mk("text", A, {x:vx(t),y:904,"text-anchor":"middle","dominant-baseline":"central","font-size":25,fill:"#4d4d4d"}, String(t).replace("-","−"));
  
  
}
el = mk("text", A, {x:631,y:933,"text-anchor":"middle","dominant-baseline":"central","font-size":27,fill:"#111"}, "log2(FC)");


el = mk("text", A, {x:0,y:0,transform:"translate(48 456) rotate(-90)","text-anchor":"middle","dominant-baseline":"central","font-size":28,fill:"#111"}, "−log10(FDR)");


el = mk("text", A, {x:950,y:123,"dominant-baseline":"central","font-size":27,fill:"#111"}, "Significant");


const legendColors = ["#f4272b","#666666","#0270bc"];
legendLabels.forEach((lab, i) => {
  const y = 165 + i * 38.5;
  let e = mk("circle", A, {cx:969,cy:y+2,r:5.5,fill:legendColors[i]});
  
  
  e = mk("text", A, {x:1000,y:y,"dominant-baseline":"central","font-size":26,fill:"#111"}, lab);
  
  
});

/* ========== PANEL B ========== */
const B = document.getElementById("panelB");
const heatLeft = 151, heatTop = 1112, heatW = 736, heatH = 1529;
const colW = heatW / heatSamples.length;
const rowH = heatH / heatRows.length;
const hx = i => heatLeft + i * colW;
const hy = i => heatTop + i * rowH;
function heatColor(v){
  const t = Math.min(1, Math.abs(v) / 2);
  if (v >= 0) return `rgb(255,${Math.round(255-160*t)},${Math.round(255-160*t)})`;
  return `rgb(${Math.round(255-255*t)},${Math.round(255-127*t)},${Math.round(255-31*t)})`;
}
const heatG = mk("g", B, {"shape-rendering":"crispEdges"});


heatRows.forEach((row, r) => {
  row.forEach((v, c) => {
    const cell = mk("rect", heatG, {x:hx(c).toFixed(2),y:hy(r).toFixed(2),width:(colW+.5).toFixed(2),height:(rowH+.5).toFixed(2),fill:heatColor(v)});
    
    
  });
});
el = mk("rect", B, {x:143,y:1112,width:8,height:1529,fill:"#000"});


let leafPath = "";
for (let y = 1112, i = 0; y < 2641; y += 3, i++) leafPath += `M143 ${y}h-${leafLengths[i % leafLengths.length]}`;
el = mk("path", B, {d:leafPath,stroke:"#000","stroke-width":2,fill:"none"});


heatSamples.forEach((s, i) => {
  const e = mk("text", B, {x:0,y:0,transform:`translate(${hx(i)+colW/2} 2648) rotate(90)`,"dominant-baseline":"central","font-size":28,fill:"#111"}, s);
  
  
});
el = mk("rect", B, {x:899,y:1112,width:22,height:337,fill:"url(#heatGrad)"});


const scaleY = v => 1282 - v * 83;
for (const v of heatScaleLabels){
  el = mk("text", B, {x:930,y:scaleY(v),"dominant-baseline":"central","font-size":24,fill:"#111"}, String(v).replace("-","−"));
  
  
}

/* ========== PANEL C ========== */
const C = document.getElementById("panelC");
const gy = v => 708 - v * 0.496;
const plotBottom = 737;
el = mk("rect", C, {x:1398,y:38,width:1297,height:46,fill:"#d9d9d9"});


el = mk("path", C, {d:"M1398 84V38H2134V84",fill:"none",stroke:"#333","stroke-width":2});


el = mk("rect", C, {x:1398,y:84,width:1297,height:653,fill:"#fff",stroke:"#333","stroke-width":2});


const facets = [
  {name:"biological-process", strip:"biological process", stripX:1680, stripLen:254, terms:bpTerms, down:bpDown, up:bpUp, first:1422.5, step:42.77, barW:19.5, light:"#b0cfe8", dark:"#0f82c0"},
  {name:"cellular-component", strip:"cellular component", stripX:2052, stripLen:271, terms:ccTerms, down:ccDown, up:ccUp, first:1995, step:54, barW:24.8, light:"#b2dfc0", dark:"#00ab54"},
  {name:"molecular-function", strip:"molecular function", stripX:2434, stripLen:261, terms:mfTerms, down:mfDown, up:mfUp, first:2170, step:60.7, barW:27.5, light:"#ffd0a8", dark:"#ff9233"}
];
for (const f of facets){
  const g = mk("g", C, {});
  
  
  f.terms.forEach((term, i) => {
    const cx = f.first + i * f.step;
    let e = mk("rect", g, {x:cx-f.barW,y:gy(f.down[i]),width:f.barW,height:gy(0)-gy(f.down[i]),fill:f.light});
    
    
    e = mk("rect", g, {x:cx,y:gy(f.up[i]),width:f.barW,height:gy(0)-gy(f.up[i]),fill:f.dark});
    
    
    e = mk("line", g, {x1:cx,x2:cx,y1:plotBottom,y2:plotBottom+7,stroke:"#333","stroke-width":2});
    
    
    const shift = term === "interspecies interaction" ? -6 : 12;
    e = mk("text", g, {x:0,y:0,transform:`translate(${cx+shift} 762) rotate(-54.5)`,"text-anchor":"end","dominant-baseline":"central","font-size":25,fill:"#444"}, term);
    
    
  });
  const s = mk("text", g, {x:f.stripX,y:59,"text-anchor":"middle","dominant-baseline":"central","font-size":28,fill:"#222",textLength:f.stripLen,lengthAdjust:"spacingAndGlyphs"}, f.strip);
  
  
}
el = mk("text", C, {x:0,y:0,transform:"translate(1938 812) rotate(-54.5)","text-anchor":"end","dominant-baseline":"central","font-size":25,fill:"#444"}, "between organisms");


el = mk("line", C, {x1:1964,x2:1964,y1:38,y2:737,stroke:"#333","stroke-width":2});


el = mk("line", C, {x1:2134,x2:2134,y1:38,y2:737,stroke:"#333","stroke-width":4});


for (const t of goYTicks){
  el = mk("line", C, {x1:1391,x2:1398,y1:gy(t),y2:gy(t),stroke:"#333","stroke-width":2});
  
  
  el = mk("text", C, {x:1390,y:gy(t),"text-anchor":"end","dominant-baseline":"central","font-size":30,fill:"#4d4d4d"}, String(t));
  
  
}
el = mk("text", C, {x:0,y:0,transform:"translate(1292 434) rotate(-90) scale(1 1.3)","text-anchor":"middle","dominant-baseline":"central","font-size":22,fill:"#111"}, "Num of Genes");


el = mk("text", C, {x:1851,y:1024,"text-anchor":"middle","dominant-baseline":"central","font-size":29,fill:"#111",textLength:132,lengthAdjust:"spacingAndGlyphs"}, "GO_term");


const swatchTops = [48, 110, 179];
facets.forEach((f, i) => {
  let e = mk("rect", C, {x:2724,y:swatchTops[i],width:51,height:44,fill:f.dark});
  
  
  e = mk("rect", C, {x:2782,y:swatchTops[i],width:51,height:44,fill:f.light});
  
  
});
el = mk("text", C, {x:2729,y:262,"dominant-baseline":"central","font-size":28,fill:"#111",textLength:123,lengthAdjust:"spacingAndGlyphs"}, "up down");



/* ========== PANEL D ========== */
const D = document.getElementById("panelD");
const dx = p => 1729.5 + p * 50.4;
const dy = (i, grp) => 1124 + i * 31.25 + grp * 9.3;
const groupColors = ["#ff7a9c","#ffab00","#00b578","#72b300","#00bcd4"];
pathwayNames.forEach((name, i) => {
  const g = pathwayGroupIndex[i], y = dy(i, g), p = pathwayPercents[i];
  let e = mk("rect", D, {x:dx(0),y:y-12.5,width:dx(p)-dx(0),height:25,fill:groupColors[g]});
  
  
  e = mk("text", D, {class:"dj",x:1698,y:y,"text-anchor":"end","dominant-baseline":"central"}, name);
  
  
  e = mk("text", D, {class:"dj",x:dx(p)+16,y:y,"dominant-baseline":"central"}, `${pathwayCounts[i]} (${p.toFixed(2)}%)`);
  
  
});
const groupLabelPos = [[2399,1133],[2399,1251],[2399,1462],[2399,2111],[2517,2597]];
groupNames.forEach((n, i) => {
  const e = mk("text", D, {class:"dj",x:groupLabelPos[i][0],y:groupLabelPos[i][1],"dominant-baseline":"central"}, n);
  
  
});
el = mk("line", D, {x1:dx(0),x2:dx(20),y1:2718,y2:2718,stroke:"#111","stroke-width":5});


for (const t of percentTicks){
  el = mk("text", D, {class:"dj",x:dx(t),y:2733,"text-anchor":"middle","dominant-baseline":"central"}, t + "%");
  
  
}
el = mk("text", D, {class:"dj",x:dx(10),y:2757,"text-anchor":"middle","dominant-baseline":"central"}, "Annotated Genes");


</script>
</body>
</html>
